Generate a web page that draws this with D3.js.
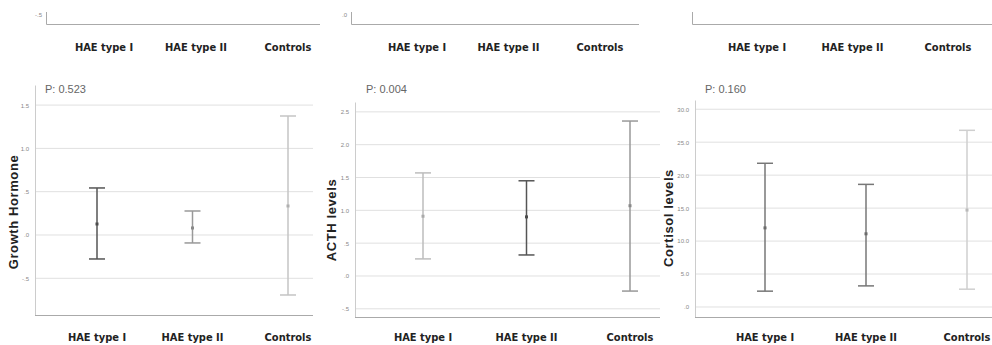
<!DOCTYPE html>
<html>
<head>
<meta charset="utf-8">
<script src="https://cdn.jsdelivr.net/npm/d3@7"></script>
<style>
  html, body { margin: 0; padding: 0; background: #fff; }
  svg { display: block; }
  .cat { font-family: "DejaVu Sans Condensed", "Liberation Sans", sans-serif; font-size: 11px; font-weight: bold; fill: #222; }
  .ytitle { font-family: "Liberation Sans", Arial, sans-serif; font-size: 13px; font-weight: bold; fill: #222; letter-spacing: 0.6px; }
  .pval { font-family: "Liberation Sans", Arial, sans-serif; font-size: 11px; fill: #666; }
  .tick text { font-family: "Liberation Sans", Arial, sans-serif; font-size: 6px; fill: #888; }
</style>
</head>
<body>
<div id="chart"></div>
<script>
// groups shared by every panel
const groups = ['HAE type I', 'HAE type II', 'Controls'];

// Growth hormone: mean and 95% CI
const ghMean = [0.127, 0.081, 0.335];
const ghLow = [-0.277, -0.092, -0.693];
const ghHigh = [0.543, 0.277, 1.374];
const ghTicks = [1.5, 1.0, 0.5, 0, -0.5];
const ghTickLabels = ['1.5', '1.0', '.5', '.0', '-.5'];

// ACTH levels
const acthMean = [0.91, 0.90, 1.07];
const acthLow = [0.26, 0.32, -0.23];
const acthHigh = [1.57, 1.45, 2.36];
const acthTicks = [2.5, 2.0, 1.5, 1.0, 0.5, 0, -0.5];
const acthTickLabels = ['2.5', '2.0', '1.5', '1.0', '.5', '.0', '-.5'];

// Cortisol levels
const cortMean = [12.0, 11.1, 14.7];
const cortLow = [2.4, 3.2, 2.7];
const cortHigh = [21.8, 18.6, 26.8];
const cortTicks = [30, 25, 20, 15, 10, 5, 0];
const cortTickLabels = ['30.0', '25.0', '20.0', '15.0', '10.0', '5.0', '.0'];

const pValues = ['P: 0.523', 'P: 0.004', 'P: 0.160'];
const yTitles = ['Growth Hormone', 'ACTH levels', 'Cortisol levels'];

// last tick of the cut-off row above
const topTickLabels = ['-.5', '.0', ''];

const W = 992, H = 345;
const svg = d3.select('#chart').append('svg').attr('width', W).attr('height', H);

const panels = [
  { mean: ghMean, low: ghLow, high: ghHigh, ticks: ghTicks, labels: ghTickLabels,
    domain: [-0.924, 1.732], yRange: [315, 85], left: 35, right: 313, xRange: [97, 288],
    colors: ['#555', '#999', '#c4c4c4'], titleX: 13, titleY: 212, pX: 45 },
  { mean: acthMean, low: acthLow, high: acthHigh, ticks: acthTicks, labels: acthTickLabels,
    domain: [-0.625, 2.65], yRange: [317, 102], left: 355, right: 660, xRange: [423, 630],
    colors: ['#bdbdbd', '#555', '#999'], titleX: 331, titleY: 220, pX: 366 },
  { mean: cortMean, low: cortLow, high: cortHigh, ticks: cortTicks, labels: cortTickLabels,
    domain: [-1.52, 31.4], yRange: [317, 100], left: 695, right: 1000, xRange: [765, 967],
    colors: ['#777', '#777', '#cfcfcf'], titleX: 668, titleY: 218, pX: 705 }
];

panels.forEach((p, pi) => {
  const g = svg.append('g');
  const y = d3.scaleLinear().domain(p.domain).range(p.yRange);
  const x = d3.scalePoint().domain(groups).range(p.xRange);

  // grid
  g.append('g')
    .selectAll('line')
    .data(p.ticks)
    .join('line')
    .attr('x1', p.left).attr('x2', p.right)
    .attr('y1', d => y(d)).attr('y2', d => y(d))
    .attr('stroke', '#e0e0e0').attr('stroke-width', 1);

  // y axis
  const yAxis = g.append('g')
    .attr('transform', `translate(${p.left},0)`)
    .call(d3.axisLeft(y).tickValues(p.ticks).tickSize(0).tickPadding(6)
      .tickFormat((d, i) => p.labels[i]));
  yAxis.select('.domain').attr('stroke', '#ccc');

  // x axis
  const xAxis = g.append('g')
    .attr('transform', `translate(0,${p.yRange[0]})`)
    .call(d3.axisBottom(x).tickSize(0).tickFormat(() => ''));
  xAxis.select('.domain').attr('d', `M${p.left},0.5H${p.right}`).attr('stroke', '#aaa');

  g.selectAll('.cat')
    .data(groups)
    .join('text')
    .attr('class', 'cat')
    .attr('x', d => x(d))
    .attr('y', 341)
    .attr('text-anchor', 'middle')
    .text(d => d);

  // error bars
  const bars = g.append('g').selectAll('g')
    .data(groups.map((d, i) => ({ group: d, mean: p.mean[i], low: p.low[i], high: p.high[i], color: p.colors[i] })))
    .join('g');

  bars.append('line')
    .attr('x1', d => x(d.group)).attr('x2', d => x(d.group))
    .attr('y1', d => y(d.low)).attr('y2', d => y(d.high))
    .attr('stroke', d => d.color).attr('stroke-width', 1.5);

  ['low', 'high'].forEach(k => {
    bars.append('line')
      .attr('x1', d => x(d.group) - 8).attr('x2', d => x(d.group) + 8)
      .attr('y1', d => y(d[k])).attr('y2', d => y(d[k]))
      .attr('stroke', d => d.color).attr('stroke-width', 1.5);
  });

  bars.append('rect')
    .attr('x', d => x(d.group) - 1.5).attr('y', d => y(d.mean) - 1.5)
    .attr('width', 3).attr('height', 3)
    .attr('fill', d => d3.color(d.color).darker(0.3));

  g.append('text')
    .attr('class', 'ytitle')
    .attr('transform', `translate(${p.titleX},${p.titleY}) rotate(-90)`)
    .attr('text-anchor', 'middle')
    .attr('dy', '0.35em')
    .text(yTitles[pi]);

  g.append('text')
    .attr('class', 'pval')
    .attr('x', p.pX).attr('y', 93)
    .text(pValues[pi]);
});

// bottom of the row above (cut off by the crop)
const topRow = [
  { axisX: 46, right: 320, xRange: [104, 288] },
  { axisX: 351, right: 639, xRange: [417, 600] },
  { axisX: 692, right: 1000, xRange: [757, 948] }
];
topRow.forEach((t, ti) => {
  const x = d3.scalePoint().domain(groups).range(t.xRange);
  const g = svg.append('g');
  g.append('path')
    .attr('d', `M${t.axisX + 0.5},12V24.5H${t.right}`)
    .attr('fill', 'none').attr('stroke', '#aaa');
  g.append('text')
    .attr('x', t.axisX - 4).attr('y', 17)
    .attr('text-anchor', 'end')
    .style('font', '6px "Liberation Sans", sans-serif')
    .attr('fill', '#888')
    .text(topTickLabels[ti]);
  g.selectAll('.cat')
    .data(groups)
    .join('text')
    .attr('class', 'cat')
    .attr('x', d => x(d))
    .attr('y', 51)
    .attr('text-anchor', 'middle')
    .text(d => d);
});
</script>
</body>
</html>
